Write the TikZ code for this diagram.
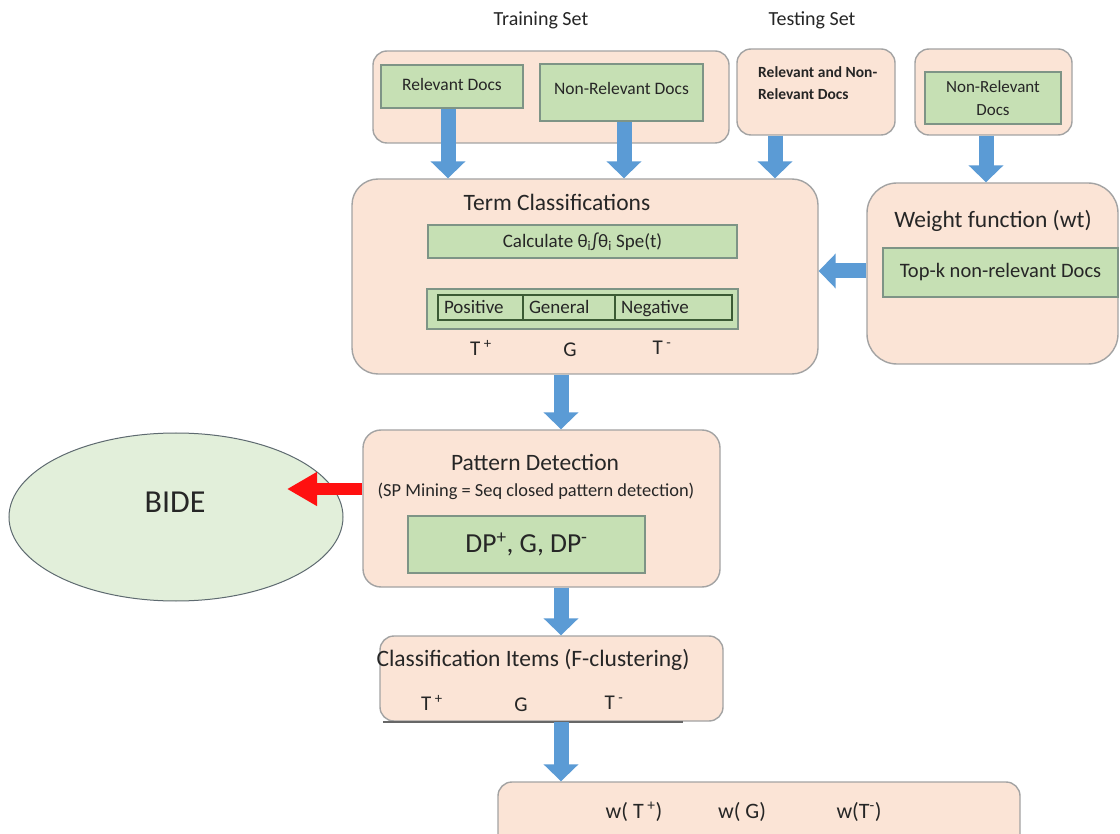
\documentclass[tikz,border=0pt]{standalone}
\usepackage{fontspec}
\setmainfont{Carlito}
\usepackage{tikz}
\usetikzlibrary{arrows.meta,shapes.geometric}
\definecolor{peach}{HTML}{FBE4D6}
\definecolor{rim}{HTML}{A3A3A3}
\definecolor{leaf}{HTML}{C6E0B4}
\definecolor{leafrim}{HTML}{7E9486}
\definecolor{celledge}{HTML}{3B5A34}
\definecolor{flowblue}{HTML}{5B9BD5}
\definecolor{hotred}{HTML}{FF1010}
\definecolor{bidefill}{HTML}{E2EFDA}
\definecolor{biderim}{HTML}{5E6A70}
\definecolor{ink}{HTML}{262626}
\tikzset{
  panel/.style={draw=rim, fill=peach, line width=1.4pt, rounded corners=#1, inner sep=0pt},
  panel/.default=16pt,
  greenbox/.style={draw=leafrim, fill=leaf, line width=1.2pt, inner sep=0pt},
  cell/.style={draw=celledge, fill=leaf, line width=1.5pt, inner xsep=6pt, inner ysep=0pt,
    text height=17pt, text depth=5pt, minimum height=25pt, align=left, text=ink,
    font=\fontsize{19}{21}\selectfont},
  flow/.style={draw=flowblue, line width=15pt, -{Triangle[width=34pt,length=17pt]}},
  hot/.style={draw=hotred, line width=12pt, -{Triangle[width=32pt,length=30pt]}},
  head/.style={text=ink, font=\fontsize{23.5}{27}\selectfont},
  small/.style={text=ink, font=\fontsize{17.5}{20}\selectfont},
  mid/.style={text=ink, font=\fontsize{21}{24}\selectfont},
}
\begin{document}
\begin{tikzpicture}[x=1pt,y=-1pt]
  \clip (0,0) rectangle (1120,834);
  \fill[white] (0,0) rectangle (1120,834);

  % top row: inputs
  \node[small, font=\fontsize{20}{22}\selectfont] (traintitle) at (541,20) {Training Set};
  \node[small, font=\fontsize{20}{22}\selectfont] (testtitle) at (812,20) {Testing Set};
  \node[panel=14pt, minimum width=356pt, minimum height=92pt] (train) at (551,97) {};
  \node[greenbox, minimum width=142pt, minimum height=43pt] (reldocs) at (452,86.5) {};
  \node[small] (reltxt) at (452,84) {Relevant Docs};
  \node[greenbox, minimum width=163pt, minimum height=57pt] (nonrel) at (621.5,92.5) {};
  \node[small] (nonreltxt) at (621.5,88) {Non-Relevant Docs};
  \node[panel=14pt, minimum width=158pt, minimum height=86pt] (test) at (816,92) {};
  \node[text=ink, font=\fontsize{15.5}{22}\selectfont\bfseries, anchor=north west, align=left,
    inner sep=0pt] (testtxt) at (758,66) {Relevant and Non-\\Relevant Docs};
  \node[panel=14pt, minimum width=157pt, minimum height=86pt] (nrpanel) at (993.5,92) {};
  \node[greenbox, minimum width=136pt, minimum height=52pt, align=center, small,
    font=\fontsize{17}{23}\selectfont] (nrdocs) at (993,98) {Non-Relevant\\Docs};

  % term classification
  \node[panel=26pt, minimum width=466pt, minimum height=195pt] (term) at (585,276.5) {};
  \node[head] (termtxt) at (557,202) {Term Classifications};
  \node[greenbox, minimum width=309pt, minimum height=33pt, mid,
    font=\fontsize{19}{22}\selectfont] (calc) at (582.5,241.5)
    {Calculate θ\textsubscript{i}∫θ\textsubscript{i} Spe(t)};
  \node[greenbox, minimum width=311pt, minimum height=40pt] (tbl) at (582.5,309) {};
  \node[cell, text width=73pt] (pos) at (480.5,307.5) {Positive};
  \node[cell, text width=80pt] (gen) at (569,307.5) {General};
  \node[cell, text width=105pt] (neg) at (673.5,307.5) {Negative};
  \node[mid] (tpos) at (481,348) {T\,\textsuperscript{+}};
  \node[mid] (tgen) at (570,350) {G};
  \node[mid] (tneg) at (662,348) {T\,\textsuperscript{-}};

  % weight function
  \node[panel=30pt, minimum width=251pt, minimum height=181pt] (weight) at (992.5,273.5) {};
  \node[head] (weighttxt) at (993,221) {Weight function (wt)};
  \node[greenbox, minimum width=235pt, minimum height=49pt, head,
    font=\fontsize{20.5}{23}\selectfont] (topk) at (1000.5,272.5) {Top-k non-relevant Docs};

  % pattern detection
  \node[panel=18pt, minimum width=357pt, minimum height=157pt] (pattern) at (541.5,508.5) {};
  \node[head] (patterntxt) at (535,462) {Pattern Detection};
  \node[small, font=\fontsize{18.4}{21}\selectfont] (spm) at (536,491)
    {(SP Mining = Seq closed pattern detection)};
  \node[greenbox, minimum width=237pt, minimum height=57pt, text=ink,
    font=\fontsize{27.5}{31}\selectfont] (dp) at (526.5,544.5)
    {DP\textsuperscript{+}, G, DP\textsuperscript{-}};
  \node[ellipse, draw=biderim, fill=bidefill, line width=1pt, minimum width=334pt,
    minimum height=168pt, inner sep=0pt] (bide) at (176,517) {};
  \node[text=ink, font=\fontsize{32}{36}\selectfont] (bidetxt) at (175,502) {BIDE};

  % classification items
  \node[panel=14pt, minimum width=343pt, minimum height=85pt] (items) at (551.5,678.5) {};
  \draw[ink!70, line width=2pt] (items.south west) ++(4,0) -- ++(300,0);
  \node[head] (itemstxt) at (533,660) {Classification Items (F-clustering)};
  \node[mid] (ipos) at (432,703) {T\,\textsuperscript{+}};
  \node[mid] (igen) at (521,705) {G};
  \node[mid] (ineg) at (614,703) {T\,\textsuperscript{-}};

  % weights
  \node[panel=14pt, minimum width=522pt, minimum height=78pt] (final) at (759,821) {};
  \node[mid, font=\fontsize{22}{25}\selectfont] (wpos) at (634,812) {w( T\,\textsuperscript{+})};
  \node[mid, font=\fontsize{22}{25}\selectfont] (wgen) at (742,812) {w( G)};
  \node[mid, font=\fontsize{22}{25}\selectfont] (wneg) at (859,812) {w(T\textsuperscript{-})};

  % arrows
  \coordinate (colrel) at (448,0);
  \coordinate (colnon) at (624,0);
  \coordinate (coltest) at (775,0);
  \coordinate (colnr) at (986,0);
  \coordinate (colmid) at (561,0);
  \coordinate (rowweight) at (0,271);
  \coordinate (bidetip) at (287,489);
  \draw[flow] (reldocs.south -| colrel) -- (term.north -| colrel);
  \draw[flow] (nonrel.south -| colnon) -- (term.north -| colnon);
  \draw[flow] (test.south -| coltest) -- (term.north -| coltest);
  \draw[flow] (nrpanel.south -| colnr) -- (weight.north -| colnr);
  \draw[flow] (weight.west |- rowweight) -- (term.east |- rowweight);
  \draw[flow] (term.south -| colmid) -- (pattern.north -| colmid);
  \draw[flow] (pattern.south -| colmid) -- (items.north -| colmid);
  \draw[flow] (items.south -| colmid) -- (final.north -| colmid);
  \draw[hot] (pattern.west |- bidetip) -- (bidetip);
\end{tikzpicture}
\end{document}
